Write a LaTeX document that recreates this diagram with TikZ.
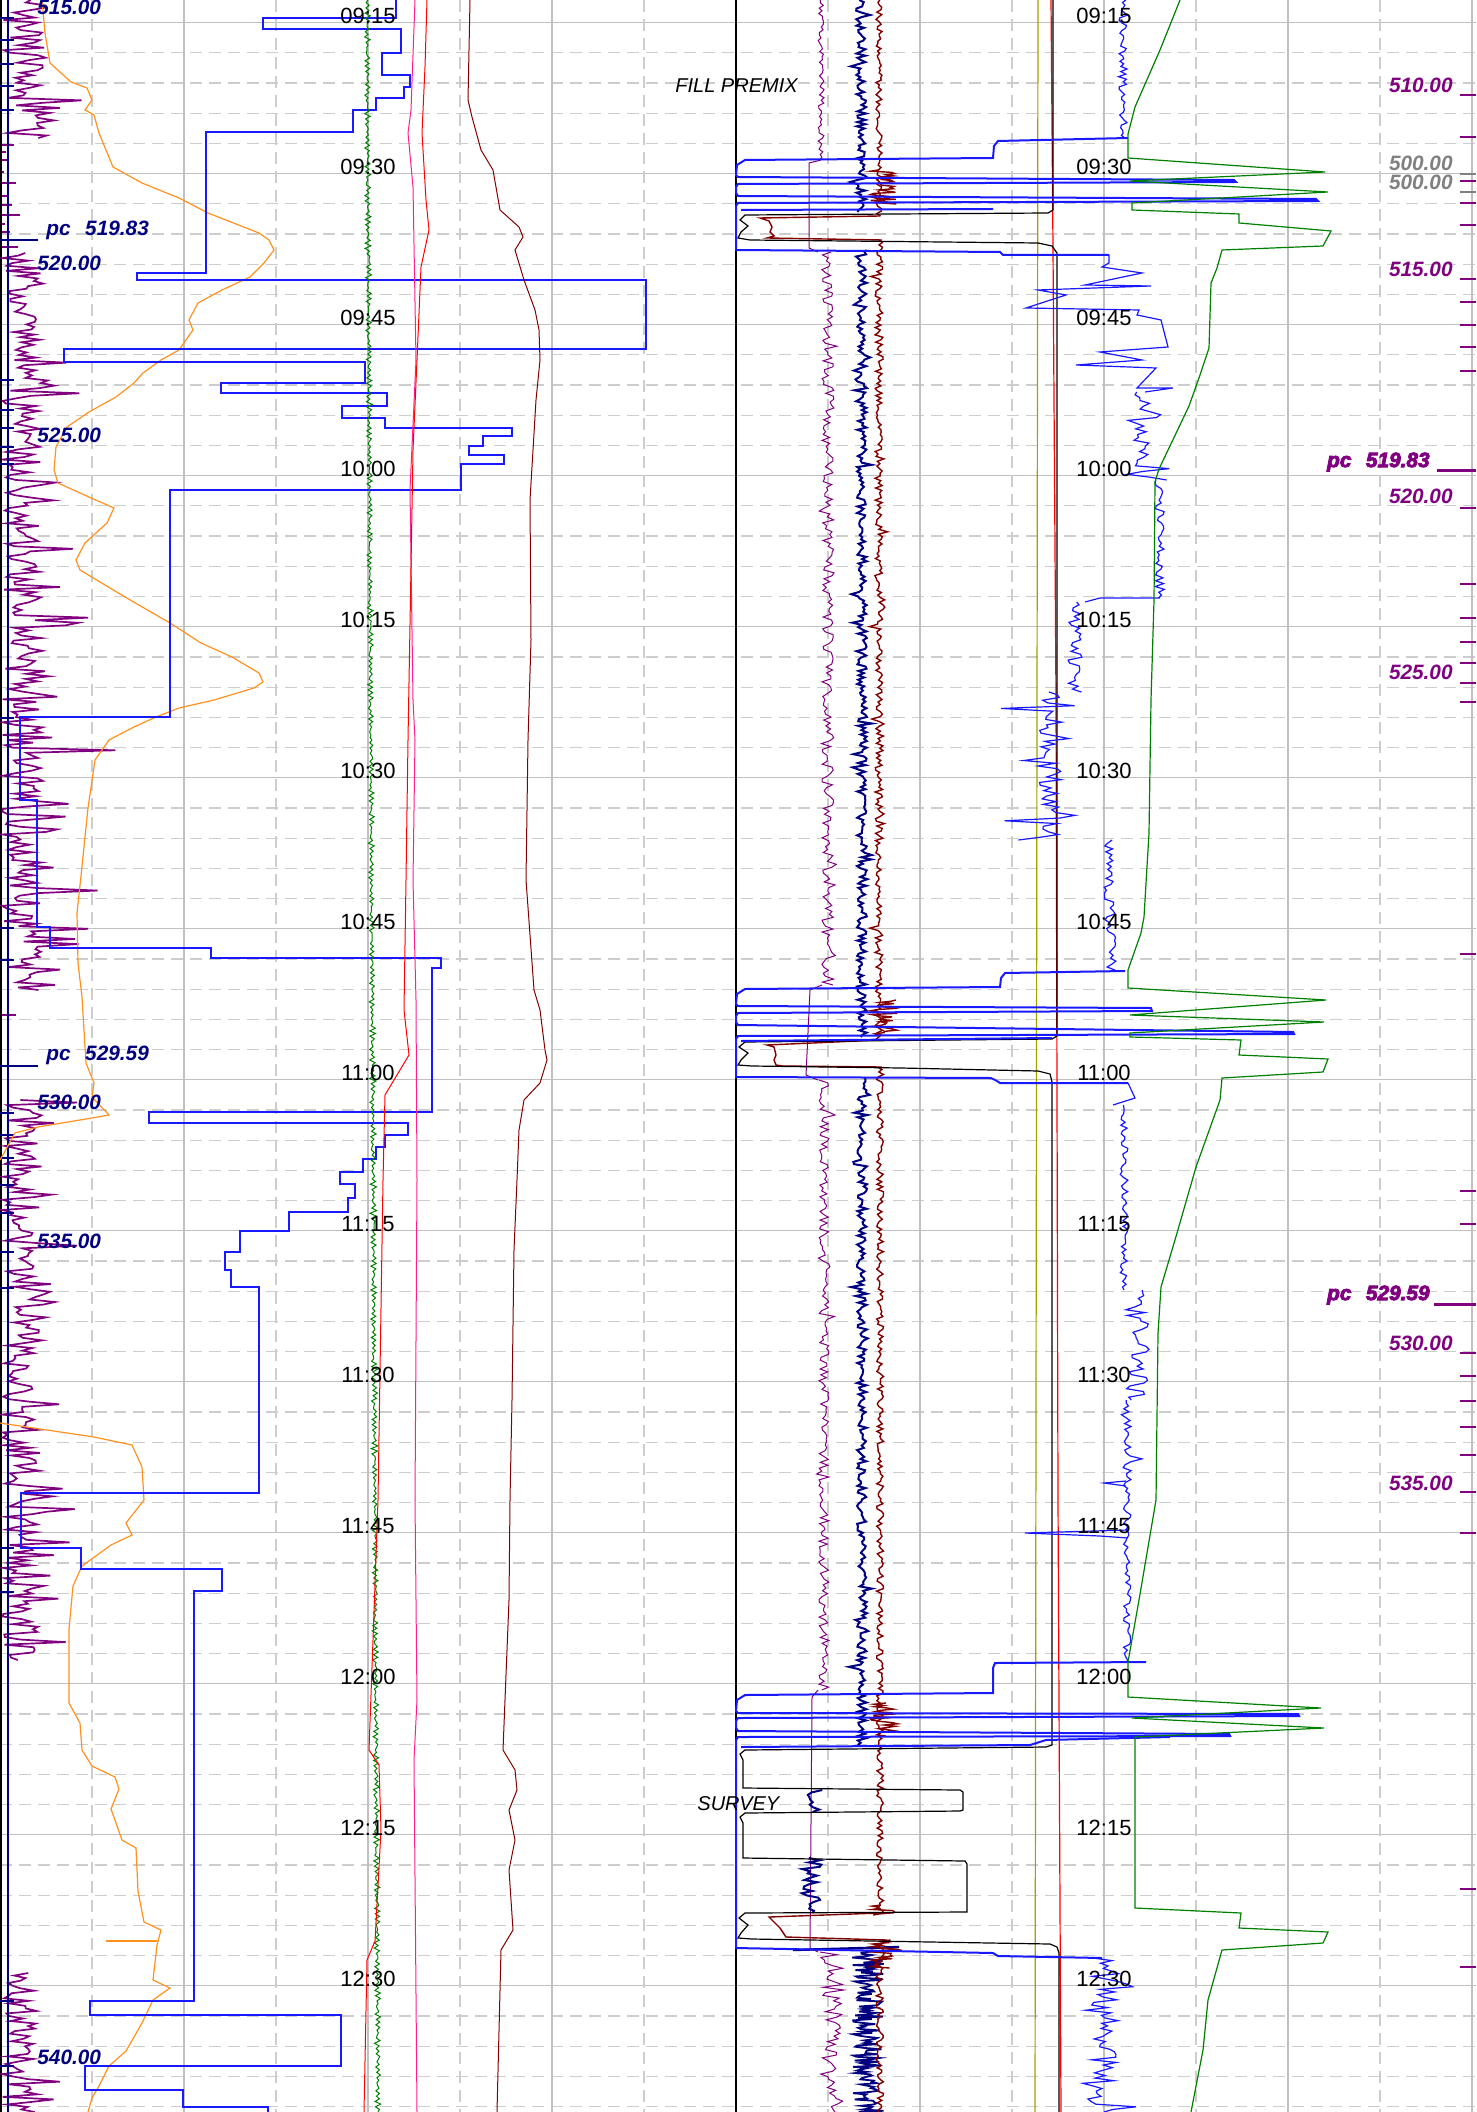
\documentclass[tikz,border=0pt]{standalone}
\usepackage{fontspec}
\setmainfont{Liberation Sans}
\newfontfamily\heavyfont[FakeBold=4]{Liberation Sans}
\definecolor{lognavy}{RGB}{0,0,128}
\definecolor{logblue}{RGB}{25,25,255}
\definecolor{logorange}{RGB}{255,145,30}
\definecolor{loggreen}{RGB}{0,128,0}
\definecolor{logpink}{RGB}{255,30,140}
\definecolor{logred}{RGB}{255,0,0}
\definecolor{logmaroon}{RGB}{130,0,0}
\definecolor{logolive}{RGB}{165,160,0}
\definecolor{logpurple}{RGB}{128,0,128}
\definecolor{gridgrey}{RGB}{192,192,192}
\definecolor{dashgrey}{RGB}{205,205,205}
\definecolor{lblgrey}{RGB}{128,128,128}
\begin{document}
\begin{tikzpicture}[x=0.5pt,y=-0.5pt,
  gridsolid/.style={draw=gridgrey,line width=0.6pt},
  griddash/.style={draw=dashgrey,line width=0.6pt,dash pattern=on 6pt off 3.5pt},
  timelbl/.style={anchor=base,inner sep=0pt,font=\fontsize{11}{13}\selectfont},
  depthL/.style={anchor=west,inner sep=0pt,text=lognavy,font=\fontsize{10.4}{12}\selectfont\bfseries\itshape},
  depthR/.style={anchor=east,inner sep=0pt,text=logpurple,font=\fontsize{10.4}{12}\selectfont\bfseries\itshape},
  depthG/.style={anchor=east,inner sep=0pt,text=lblgrey,font=\fontsize{10.4}{12}\selectfont\bfseries\itshape},
  pcR/.style={anchor=east,inner sep=0pt,text=logpurple,font=\fontsize{10.4}{12}\heavyfont\selectfont\bfseries\itshape},
  eventlbl/.style={anchor=base west,inner sep=0pt,font=\fontsize{10}{12}\selectfont\itshape},
  thin1/.style={line width=0.5pt},
  purp1/.style={draw=logpurple,line width=0.85pt},
  stepline/.style={draw=logblue,line width=0.75pt},
  evblue/.style={draw=logblue,line width=1pt},
  evblack/.style={draw=black,line width=0.6pt},
]
\pgfmathsetseed{4321}
\useasboundingbox (0,0) rectangle (1476,2112);
\fill[white] (0,0) rectangle (1476,2112);
\begin{scope}
\clip (0,0) rectangle (1476,2112);
% ---------------- grid
\foreach \k in {0,...,13}{
  \draw[gridsolid] (0,{22.7+151*\k}) -- (1476,{22.7+151*\k});
  \foreach \j in {1,...,4}{
    \draw[griddash] (0,{22.7+151*\k+30.2*\j}) -- (1476,{22.7+151*\k+30.2*\j});
  }
}
\foreach \i in {1,3,5,7,9,11,13,15}{ \draw[griddash] ({92*\i},0) -- ({92*\i},2112); }
\foreach \i in {2,4,6,10,12,14,16}{ \draw[gridsolid] ({92*\i},0) -- ({92*\i},2112); }
\draw[black,line width=0.8pt] (0.8,0) -- (0.8,2112);
\draw[black,line width=0.8pt] (736,0) -- (736,2112);

% ---------------- track 1 purple noise
\draw[purp1] plot[domain=0:138,samples=56] ({2+45*rnd+ifthenelse(rnd>0.7,45*rnd,0)},\x);
\foreach \yy/\xx in {145/14,152/6,160/9,172/4,183/16,196/7,205/12,215/20,224/5,232/10,247/18}{
  \draw[purp1] (2,\yy) -- (\xx,\yy);
}
\draw[purp1] plot[domain=253:990,samples=290] ({2+40*rnd+ifthenelse(rnd>0.85,45*rnd,0)+ifthenelse(rnd>0.985,70,0)},\x);
\draw[purp1] (2,1015) -- (16,1015);
\draw[purp1] plot[domain=1100:1660,samples=220] ({2+38*rnd+ifthenelse(rnd>0.85,50*rnd,0)},\x);
\draw[purp1] plot[domain=1973:2112,samples=56] ({2+35*rnd+ifthenelse(rnd>0.85,25*rnd,0)},\x);
\draw[lognavy,line width=0.6pt] (8,0) -- (8,2112);

% ---------------- track 1 depth ticks
\foreach \yy in {18,40,64,86,110,380,410,428,447,464,718,928,960,1113,1135,1158,1185,1213,1252,1288,1548,1592,2001,2066}{
  \draw[lognavy,line width=0.8pt] (0,\yy) -- (14,\yy);
}
\draw[lognavy,line width=0.8pt] (0,240) -- (38,240);
\draw[lognavy,line width=0.8pt] (0,1066) -- (38,1066);

% ---------------- track 1 orange
\draw[logorange,line width=0.6pt] (42,0) -- (45,33) -- (50,63) -- (71,82) -- (87,88) -- (92,100) -- (85,110) -- (94,115) -- (99,133) -- (113,167) -- (142,183) -- (179,198) -- (208,213) -- (259,233) -- (269,240) -- (274,250) -- (264,263) -- (250,277) -- (222,290) -- (198,303) -- (189,320) -- (193,330) -- (179,350) -- (161,360) -- (143,373) -- (134,383) -- (116,397) -- (89,412) -- (67,427) -- (56,447) -- (54,470) -- (58,483) -- (89,497) -- (114,508) -- (107,523) -- (85,543) -- (76,560) -- (80,570) -- (125,597) -- (170,623) -- (201,643) -- (232,657) -- (259,673) -- (263,682) -- (254,688) -- (214,700) -- (179,708) -- (156,717) -- (134,727) -- (109,740) -- (95,760) -- (88,808) -- (81,876) -- (77,913) -- (78,963) -- (82,997) -- (84,1030) -- (86,1063) -- (94,1083) -- (92,1097) -- (109,1115) -- (92,1118) -- (38,1127) -- (15,1133) -- (4,1153) -- (0,1160);
\draw[logorange,line width=0.6pt] (0,1423) -- (47,1430) -- (94,1437) -- (132,1445) -- (142,1467) -- (144,1500) -- (126,1523) -- (132,1535) -- (111,1545) -- (82,1566) -- (73,1586) -- (69,1629) -- (69,1703) -- (80,1723) -- (82,1750) -- (92,1766) -- (115,1777) -- (119,1789) -- (111,1809) -- (122,1840) -- (136,1848) -- (138,1891) -- (144,1922) -- (161,1930) -- (157,1945) -- (153,1980) -- (170,1988) -- (153,2000) -- (142,2023) -- (126,2051) -- (109,2066) -- (99,2086) -- (92,2098) -- (88,2112);
\draw[logorange,line width=0.6pt] (106,1941) -- (157,1941);

% ---------------- track 1 blue step curve
\draw[stepline] (396,0) -- (396,18) -- (263,18) -- (263,29) -- (401,29) -- (401,53) -- (382,53) -- (382,75) -- (410,75) -- (410,87) -- (404,87) -- (404,98) -- (376,98) -- (376,110) -- (353,110) -- (353,132) -- (206,132) -- (206,273) -- (137,273) -- (137,280) -- (646,280) -- (646,349) -- (64,349) -- (64,362) -- (365,362) -- (365,383) -- (221,383) -- (221,393) -- (387,393) -- (387,406) -- (342,406) -- (342,418) -- (385,418) -- (385,428) -- (512,428) -- (512,436) -- (483,436) -- (483,446) -- (469,446) -- (469,455) -- (504,455) -- (504,464) -- (461,464) -- (461,490) -- (170,490) -- (170,717) -- (20,717) -- (20,800) -- (37,800) -- (37,927) -- (50,927) -- (50,948) -- (211,948) -- (211,958) -- (441,958) -- (441,968) -- (432,968) -- (432,1112) -- (149,1112) -- (149,1123) -- (408,1123) -- (408,1135) -- (385,1135) -- (385,1147) -- (376,1147) -- (376,1159) -- (363,1159) -- (363,1172) -- (340,1172) -- (340,1184) -- (355,1184) -- (355,1198) -- (348,1198) -- (348,1212) -- (289,1212) -- (289,1231) -- (240,1231) -- (240,1252) -- (225,1252) -- (225,1270) -- (231,1270) -- (231,1287) -- (259,1287) -- (259,1493) -- (21,1493) -- (21,1548) -- (81,1548) -- (81,1569) -- (222,1569) -- (222,1591) -- (194,1591) -- (194,2001) -- (90,2001) -- (90,2015) -- (341,2015) -- (341,2066) -- (85,2066) -- (85,2090) -- (183,2090) -- (183,2107) -- (268,2107) -- (268,2115);

% ---------------- track 1 green, pink, red, maroon
\draw[loggreen,thin1] plot[domain=0:2112,samples=800] ({367+(\x/192)+2.2*sin(mod(\x,4.8)*75)+1.2*rand},\x);
\draw[logpink,thin1] (415,0) -- (411,110) -- (408,133) -- (413,187) -- (416,360) -- (410,490) -- (413,700) -- (415,740) -- (413,880) -- (416,1000) -- (417,1180) -- (415,1500) -- (417,1700) -- (414,1760) -- (417,2112);
\draw[logred,thin1] (427,0) -- (425,67) -- (422,133) -- (426,200) -- (429,230) -- (421,267) -- (417,360) -- (413,450) -- (411,567) -- (408,740) -- (406,880) -- (404,1010) -- (409,1055) -- (394,1080) -- (385,1095) -- (383,1180) -- (378,1500) -- (373,1640) -- (369,1750) -- (379,1765) -- (381,1830) -- (375,1941) -- (367,1960) -- (364,2112);
\draw[logmaroon,thin1] (470,0) -- (468,100) -- (472,117) -- (481,150) -- (493,170) -- (500,210) -- (519,227) -- (523,237) -- (515,250) -- (524,280) -- (535,310) -- (539,330) -- (540,360) -- (536,400) -- (533,450) -- (530,500) -- (531,640) -- (528,740) -- (526,880) -- (534,990) -- (540,1010) -- (545,1050) -- (547,1060) -- (540,1083) -- (524,1100) -- (519,1130) -- (517,1180) -- (514,1250) -- (512,1400) -- (510,1500) -- (509,1600) -- (503,1750) -- (515,1770) -- (517,1790) -- (509,1810) -- (515,1840) -- (509,1870) -- (513,1930) -- (501,1950) -- (497,2112);

% ---------------- track 2 olive, red
\draw[logolive,line width=0.6pt] (1038,0) -- (1035,2112);
\draw[logred,line width=0.6pt] (1051,0) -- (1053,250) -- (1056,700) -- (1057,1100) -- (1058,1500) -- (1061,2112);

% ---------------- track 2 purple
\draw[logpurple,thin1] plot[domain=0:160,samples=60] ({821+3*rand},\x);
\draw[logpurple,thin1] (821,160) -- (809,163) -- (809,248) -- (818,252);
\draw[logpurple,thin1] plot[domain=252:985,samples=250] ({828+6*rand+ifthenelse(rnd>0.9,10*rand,0)},\x);
\draw[logpurple,thin1] (822,985) -- (810,990) -- (806,1075) -- (818,1080);
\draw[logpurple,thin1] plot[domain=1080:1690,samples=210] ({824+5*rand+ifthenelse(rnd>0.92,10*rand,0)},\x);
\draw[logpurple,thin1] (818,1690) -- (812,1697) -- (810,1948) -- (818,1952);
\draw[logpurple,thin1] plot[domain=1952:2112,samples=60] ({832+12*rand},\x);

% ---------------- track 2 navy
\draw[lognavy,line width=1pt] plot[domain=0:212,samples=100] ({861+5*rand+ifthenelse(rnd>0.9,9*rand,0)},\x);
\draw[lognavy,line width=1pt] plot[domain=250:1037,samples=360] ({862+5*rand+ifthenelse(rnd>0.9,9*rand,0)},\x);
\draw[lognavy,line width=1pt] plot[domain=1077:1745,samples=300] ({862+5*rand+ifthenelse(rnd>0.9,9*rand,0)},\x);
\draw[lognavy,line width=1pt] plot[domain=1790:1812,samples=10] ({815+9*rand},\x);
\draw[lognavy,line width=1pt] plot[domain=1858:1913,samples=26] ({812+11*rand},\x);
\draw[lognavy,line width=1.2pt] (793,1950) -- (899,1947);
\draw[lognavy,line width=0.9pt] plot[domain=1950:2112,samples=130] ({868+16*rand},\x);

% ---------------- track 2 maroon
\draw[logmaroon,line width=0.7pt] plot[domain=0:216,samples=90] ({879+3*rand},\x);
\draw[logmaroon,line width=0.7pt] plot[domain=170:204,samples=30] ({884+14*rand},\x);
\draw[logmaroon,line width=0.7pt] (880,216) -- (760,218) -- (769,221) -- (772,227) -- (770,232) -- (774,236) -- (767,238) -- (882,240);
\draw[logmaroon,line width=0.7pt] plot[domain=240:1040,samples=330] ({879+4*rand+ifthenelse(rnd>0.9,6*rand,0)},\x);
\draw[logmaroon,line width=0.7pt] plot[domain=1000:1035,samples=30] ({884+14*rand},\x);
\draw[logmaroon,line width=0.7pt] (880,1040) -- (767,1045) -- (774,1047) -- (776,1055) -- (774,1060) -- (776,1065) -- (783,1066) -- (882,1067);
\draw[logmaroon,line width=0.7pt] plot[domain=1067:1913,samples=340] ({880+3.5*rand},\x);
\draw[logmaroon,line width=0.7pt] plot[domain=1703:1736,samples=28] ({884+14*rand},\x);
\draw[logmaroon,line width=0.7pt] plot[domain=1905:1915,samples=10] ({884+13*rand},\x);
\draw[logmaroon,line width=0.7pt] (880,1913) -- (769,1917) -- (772,1920) -- (780,1928) -- (786,1937) -- (887,1940);
\draw[logmaroon,line width=0.7pt] plot[domain=1940:2112,samples=75] ({880+4*rand},\x);
\draw[logmaroon,line width=0.7pt] plot[domain=1940:1968,samples=22] ({884+13*rand},\x);

% ---------------- track 2 black event line
\draw[evblack] (1053,0) -- (1053,210) -- (1048,213) -- (745,215) -- (740,220) -- (748,226) -- (741,232) -- (738,238) -- (750,240) -- (1038,243) -- (1052,246) -- (1057,253) -- (1057,1036) -- (1052,1039) -- (745,1042) -- (739,1047) -- (748,1053) -- (741,1060) -- (738,1065) -- (752,1066) -- (901,1068) -- (1038,1071) -- (1050,1074) -- (1052,1082) -- (1052,1745) -- (1046,1747) -- (745,1750) -- (740,1754) -- (743,1760) -- (743,1788) -- (960,1790) -- (963,1792) -- (963,1810) -- (960,1811) -- (745,1813) -- (740,1817) -- (743,1823) -- (743,1858) -- (965,1861) -- (967,1864) -- (967,1912) -- (745,1913) -- (739,1918) -- (748,1925) -- (741,1933) -- (738,1938) -- (752,1939) -- (1050,1944) -- (1057,1947) -- (1059,1953) -- (1059,2112);

% ---------------- track 2 blue noisy
\draw[logblue,line width=0.6pt] plot[domain=0:138,samples=55] ({1123+4*rand+ifthenelse(rnd>0.85,8*rand,0)},\x);
\draw[logblue,line width=0.6pt] (1109,255) -- (1109,263) -- (1102,267) -- (1142,273) -- (1085,285) -- (1151,286) -- (1038,290) -- (1066,295) -- (1026,308) -- (1139,310) -- (1137,315) -- (1161,320) -- (1168,347) -- (1100,352) -- (1142,360) -- (1076,365) -- (1156,368) -- (1137,388) -- (1173,388) -- (1145,392);
\draw[logblue,line width=0.6pt] plot[domain=392:480,samples=32] ({1142+8*rand+ifthenelse(rnd>0.8,25*rand,0)},\x);
\draw[logblue,line width=0.6pt] plot[domain=480:598,samples=42] ({1160+5*rand},\x);
\draw[logblue,line width=0.6pt] (1160,598) -- (1100,598) -- (1085,602);
\draw[logblue,line width=0.6pt] plot[domain=602:692,samples=32] ({1075+7*rand},\x);
\draw[logblue,line width=0.6pt] plot[domain=692:840,samples=55] ({1050+12*rand+ifthenelse(rnd>0.7,45*rand,0)},\x);
\draw[logblue,line width=0.6pt] plot[domain=840:970,samples=45] ({1110+6*rand},\x);
\draw[logblue,line width=0.6pt] (1128,1083) -- (1135,1098) -- (1113,1105);
\draw[logblue,line width=0.6pt] plot[domain=1105:1290,samples=65] ({1124+4*rand},\x);
\draw[logblue,line width=0.6pt] plot[domain=1290:1400,samples=40] ({1137+12*rand},\x);
\draw[logblue,line width=0.6pt] plot[domain=1400:1662,samples=90] ({1127+4*rand+ifthenelse(rnd>0.95,15*rand,0)},\x);
\draw[logblue,line width=0.6pt] (1126,1481) -- (1104,1483) -- (1126,1486);
\draw[logblue,line width=0.6pt] (1128,1530) -- (1025,1533) -- (1100,1536) -- (1128,1538);
\draw[logblue,line width=0.6pt] plot[domain=1958:2112,samples=60] ({1105+14*rand+ifthenelse(rnd>0.85,28*rand,0)},\x);

% ---------------- track 2 blue events
\draw[evblue] (1128,138) -- (998,141) -- (994,146) -- (993,158) -- (745,160) -- (737,165) -- (736,175) -- (738,177) -- (1234,180) -- (1236,182) -- (738,184) -- (736,187) -- (736,193) -- (738,196) -- (1316,199) -- (1318,201) -- (738,203) -- (736,206) -- (736,250) -- (1000,252) -- (1003,255) -- (1109,255);
\draw[evblue] (741,210) -- (993,209);
\draw[evblue] (1125,971) -- (1005,973) -- (1001,978) -- (1000,987) -- (745,989) -- (737,994) -- (736,1004) -- (738,1006) -- (1151,1008) -- (1152,1011) -- (738,1013) -- (736,1016) -- (736,1022) -- (738,1025) -- (1293,1032) -- (1294,1034) -- (738,1036) -- (736,1039) -- (736,1077) -- (991,1078) -- (997,1081) -- (1000,1083) -- (1128,1083);
\draw[evblue] (741,1041) -- (1052,1038);
\draw[evblue] (1146,1662) -- (995,1663) -- (993,1668) -- (993,1693) -- (745,1695) -- (737,1700) -- (736,1711) -- (738,1713) -- (1298,1714) -- (1299,1716) -- (738,1718) -- (736,1721) -- (736,1728) -- (738,1731) -- (1229,1734) -- (1230,1736) -- (738,1737) -- (736,1740) -- (736,1948) -- (993,1953) -- (998,1956) -- (1102,1958);
\draw[evblue] (741,1747) -- (1030,1745) -- (1046,1740) -- (1170,1737);

% ---------------- track 2 green
\draw[loggreen,line width=0.6pt] (1180,0) -- (1160,50) -- (1135,107) -- (1128,134) -- (1128,158) -- (1325,172) -- (1130,181) -- (1328,192) -- (1132,203) -- (1132,210) -- (1239,214) -- (1239,223) -- (1331,231) -- (1323,246) -- (1222,250) -- (1217,268) -- (1211,283) -- (1209,348) -- (1200,375) -- (1189,406) -- (1159,469) -- (1155,482) -- (1154,600) -- (1151,700) -- (1149,833) -- (1144,917) -- (1141,933) -- (1128,970) -- (1128,988) -- (1326,1000) -- (1130,1015) -- (1324,1022) -- (1130,1033) -- (1130,1037) -- (1241,1040) -- (1239,1055) -- (1328,1059) -- (1323,1072) -- (1222,1078) -- (1220,1100) -- (1196,1167) -- (1177,1233) -- (1161,1287) -- (1158,1333) -- (1156,1500) -- (1139,1600) -- (1128,1662) -- (1128,1697) -- (1321,1708) -- (1132,1718) -- (1324,1728) -- (1135,1737) -- (1135,1908) -- (1241,1913) -- (1239,1928) -- (1328,1932) -- (1323,1943) -- (1222,1950) -- (1208,2000) -- (1203,2050) -- (1191,2112);

% ---------------- right ticks
\foreach \yy in {95,137,181,203,225,279,302,325,347,371,508,584,618,642,663,683,702,954,1191,1224,1353,1376,1401,1427,1455,1492,1533,1889,1967}{
  \draw[logpurple,line width=0.9pt] (1460,\yy) -- (1476,\yy);
}
\draw[lblgrey,line width=0.7pt] (1460,174) -- (1476,174);
\draw[lblgrey,line width=0.7pt] (1460,192) -- (1476,192);
\draw[logpurple,line width=1.5pt] (1437,471) -- (1476,471);
\draw[logpurple,line width=1.5pt] (1434,1304) -- (1476,1304);
\end{scope}

% ---------------- time labels
\foreach \lab [count=\k from 0] in {09:15,09:30,09:45,10:00,10:15,10:30,10:45,11:00,11:15,11:30,11:45,12:00,12:15,12:30}{
  \node[timelbl] (ta\k) at (368,{22.7+151*\k+1}) {\lab};
  \node[timelbl] (tb\k) at (1104,{22.7+151*\k+1}) {\lab};
}

% ---------------- left depth labels
\node[depthL] (l515) at (37,7) {515.00};
\node[depthL] (lpc1) at (46,230) {pc\hspace{0.7em}519.83};
\node[depthL] (l520) at (37,263) {520.00};
\node[depthL] (l525) at (37,435) {525.00};
\node[depthL] (lpc2) at (46,1055) {pc\hspace{0.7em}529.59};
\node[depthL] (l530) at (37,1102) {530.00};
\node[depthL] (l535) at (37,1241) {535.00};
\node[depthL] (l540) at (37,2057) {540.00};

% ---------------- right depth labels
\node[depthR] (r510) at (1453,85) {510.00};
\node[depthG] (r500a) at (1453,163) {500.00};
\node[depthG] (r500b) at (1453,182) {500.00};
\node[depthR] (r515) at (1453,269) {515.00};
\node[pcR] (rpc1) at (1430,462) {pc\hspace{0.7em}519.83};
\node[depthR] (r520) at (1453,496) {520.00};
\node[depthR] (r525) at (1453,672) {525.00};
\node[pcR] (rpc2) at (1430,1295) {pc\hspace{0.7em}529.59};
\node[depthR] (r530) at (1453,1343) {530.00};
\node[depthR] (r535) at (1453,1483) {535.00};

% ---------------- event labels
\node[eventlbl] (fill) at (675,93) {FILL PREMIX};
\node[eventlbl] (survey) at (697,1810) {SURVEY};
\end{tikzpicture}
\end{document}
